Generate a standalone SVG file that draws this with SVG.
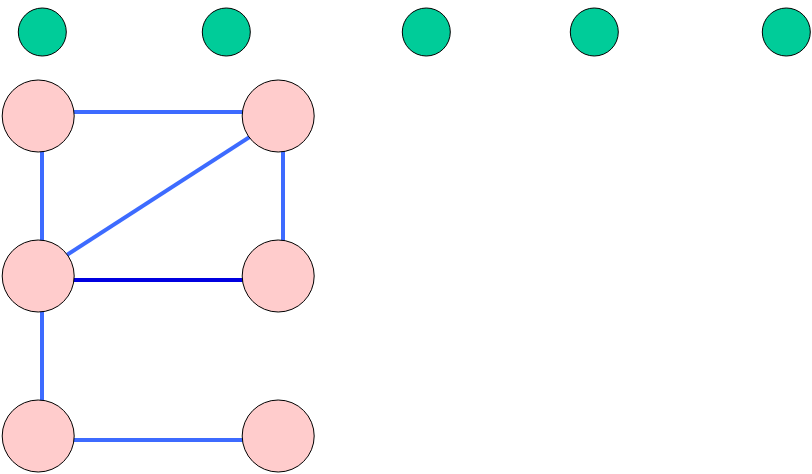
<svg xmlns="http://www.w3.org/2000/svg" width="812" height="474" viewBox="0 0 812 474">
<style>
.e{stroke:#3d6bff;stroke-width:4;fill:none}
.d{stroke:#0000e0;stroke-width:4;fill:none}
.g{fill:#00cc99;stroke:#000;stroke-width:1}
.p{fill:#ffcccc;stroke:#000;stroke-width:1}
</style>
<rect width="812" height="474" fill="#fff"/>
<g id="edges">
<line class="e" x1="42" y1="112" x2="282" y2="112"/>
<line class="e" x1="42" y1="116" x2="42" y2="276"/>
<line class="e" x1="283" y1="116" x2="283" y2="276"/>
<line class="e" x1="42" y1="271" x2="282" y2="116"/>
<line class="d" x1="42" y1="280" x2="282" y2="280"/>
<line class="e" x1="42" y1="276" x2="42" y2="436"/>
<line class="e" x1="42" y1="440" x2="282" y2="440"/>
</g>
<g id="g1"><circle class="g" cx="42.3" cy="32" r="24"/></g>
<g id="g2"><circle class="g" cx="226.3" cy="32" r="24"/></g>
<g id="g3"><circle class="g" cx="426.3" cy="32" r="24"/></g>
<g id="g4"><circle class="g" cx="594.3" cy="32" r="24"/></g>
<g id="g5"><circle class="g" cx="786.3" cy="32" r="24"/></g>
<g id="p1"><circle class="p" cx="38.2" cy="116" r="36"/></g>
<g id="p2"><circle class="p" cx="278.2" cy="116" r="36"/></g>
<g id="p3"><circle class="p" cx="38.2" cy="276" r="36"/></g>
<g id="p4"><circle class="p" cx="278.2" cy="276" r="36"/></g>
<g id="p5"><circle class="p" cx="38.2" cy="436" r="36"/></g>
<g id="p6"><circle class="p" cx="278.2" cy="436" r="36"/></g>
</svg>
